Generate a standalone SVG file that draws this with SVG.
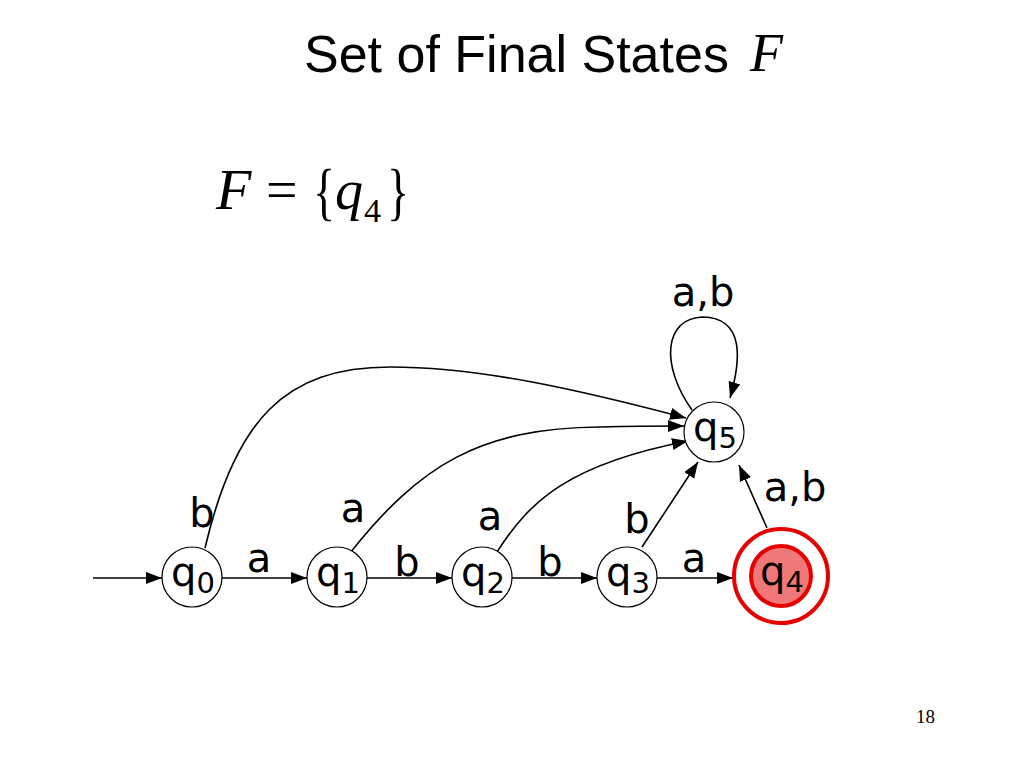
<svg xmlns="http://www.w3.org/2000/svg" width="1024" height="768" viewBox="0 0 1024 768">
<defs>
<marker id="arr" markerUnits="userSpaceOnUse" markerWidth="17" markerHeight="13" refX="16" refY="6" orient="auto">
<path d="M0,0 L16,6 L0,12 z" fill="#000"/>
</marker>
<style>
.title{font-family:"Liberation Sans",Arial,sans-serif;font-size:52px;fill:#000}
.math{font-family:"Liberation Serif","Times New Roman",serif;font-style:italic;fill:#000}
.mathr{font-family:"Liberation Serif","Times New Roman",serif;fill:#000}
.lbl{font-family:"Comic Sans MS","DejaVu Sans",sans-serif;font-size:40px;fill:#000;text-anchor:middle}
.sub{font-size:29px}
.node{fill:#fff;stroke:#000;stroke-width:1.2}
.edge{fill:none;stroke:#000;stroke-width:1.6;marker-end:url(#arr)}
</style>
</defs>
<rect width="1024" height="768" fill="#fff"/>
<text class="title" x="304" y="72">Set of Final States</text>
<text class="math" x="750" y="71" font-size="54">F</text>
<g id="formula">
<text class="math" x="216" y="209" font-size="58">F</text>
<text class="mathr" x="266" y="209" font-size="56">=</text>
<text class="mathr" font-size="46" text-anchor="middle" transform="translate(324,213) scale(1,1.4)">{</text>
<text class="math" x="335" y="209" font-size="56">q</text>
<text class="mathr" x="364" y="222" font-size="34">4</text>
<text class="mathr" font-size="46" text-anchor="middle" transform="translate(398,213) scale(1,1.4)">}</text>
</g>
<text class="mathr" x="916" y="723" font-size="19">18</text>
<g id="connectors">
<path class="edge" d="M93,578 L162,578"/>
<path class="edge" d="M222,578 L307,578"/>
<path class="edge" d="M367,578 L452,578"/>
<path class="edge" d="M512,578 L597,578"/>
<path class="edge" d="M657,578 L733,578"/>
<path class="edge" d="M205,548 C235,420 285,367 390,367 C480,367 580,390 686,418"/>
<path class="edge" d="M350,553 C420,465 480,428 600,427 C640,426 665,426 684,426"/>
<path class="edge" d="M497,552 C530,500 570,464 688,441"/>
<path class="edge" d="M642,547 L698,462"/>
<path class="edge" d="M767,528 L739,465"/>
<path class="edge" d="M692,410 C660,365 664,318 703,317 C745,318 741,360 730,398"/>
</g>
<g id="labels">
<text class="lbl" x="703" y="306">a,b</text>
<text class="lbl" x="795" y="501">a,b</text>
<text class="lbl" x="202" y="527">b</text>
<text class="lbl" x="353" y="522">a</text>
<text class="lbl" x="490" y="530">a</text>
<text class="lbl" x="637" y="533">b</text>
<text class="lbl" x="259" y="572">a</text>
<text class="lbl" x="407" y="576">b</text>
<text class="lbl" x="550" y="576">b</text>
<text class="lbl" x="694" y="572">a</text>
</g>
<g id="q0"><circle class="node" cx="192" cy="577" r="30"/><text class="lbl" x="193" y="586">q<tspan class="sub" dy="7">0</tspan></text></g>
<g id="q1"><circle class="node" cx="337" cy="577" r="30"/><text class="lbl" x="338" y="586">q<tspan class="sub" dy="7">1</tspan></text></g>
<g id="q2"><circle class="node" cx="482" cy="577" r="30"/><text class="lbl" x="483" y="586">q<tspan class="sub" dy="7">2</tspan></text></g>
<g id="q3"><circle class="node" cx="627" cy="577" r="30"/><text class="lbl" x="628" y="586">q<tspan class="sub" dy="7">3</tspan></text></g>
<g id="q4"><circle cx="781" cy="576" r="47" fill="none" stroke="#e60000" stroke-width="4"/><circle cx="781" cy="576" r="30" fill="#f07878" stroke="#e60000" stroke-width="4"/><text class="lbl" x="782" y="585">q<tspan class="sub" dy="7">4</tspan></text></g>
<g id="q5"><circle class="node" cx="714" cy="432" r="30"/><text class="lbl" x="715" y="441">q<tspan class="sub" dy="7">5</tspan></text></g>
</svg>
